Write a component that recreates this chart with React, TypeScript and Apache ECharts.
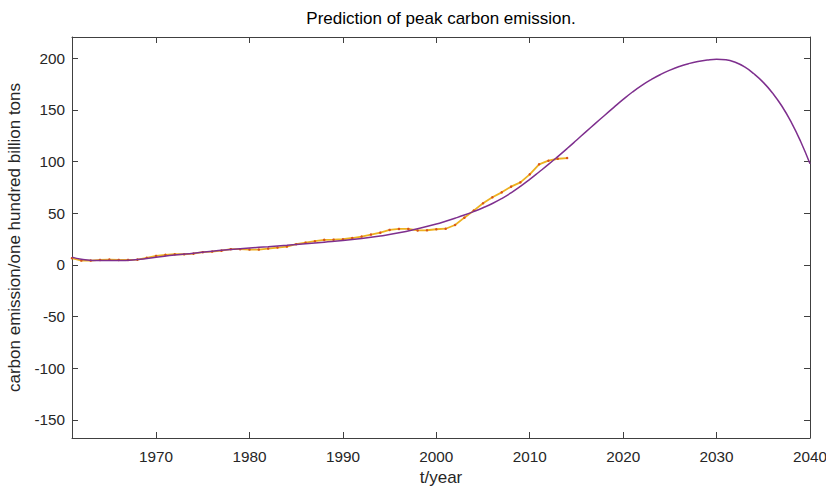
import React, { useEffect, useRef } from "react";
import * as echarts from "echarts";

const years: number[] = [];
for (let y = 1961; y <= 2014; y++) years.push(y);

const actual: number[] = [
  6.5, 4.2, 4.2, 4.8, 5.1, 4.8, 4.8, 5.1, 6.8, 8.7,
  9.7, 10.3, 10.3, 10.9, 12.3, 12.9, 13.8, 15.2, 15.2, 14.8,
  14.8, 15.8, 16.8, 17.7, 20.0, 21.5, 22.9, 24.2, 24.4, 24.8,
  26.0, 27.4, 29.3, 31.2, 33.8, 34.8, 34.8, 33.3, 33.5, 34.5,
  35.0, 38.6, 45.7, 52.5, 59.6, 65.4, 70.2, 75.7, 79.9, 87.6,
  97.3, 100.8, 102.7, 103.4,
];

const fitYears: number[] = [
  1961, 1962, 1964, 1966, 1968, 1970, 1972, 1974, 1976, 1978, 1980,
  1982, 1984, 1986, 1988, 1990, 1992, 1994, 1996, 1998, 2000,
  2001, 2002, 2003, 2004, 2005, 2006, 2007, 2008, 2009, 2010,
  2011, 2012, 2013, 2014, 2015, 2016, 2017, 2018, 2019, 2020,
  2021, 2022, 2023, 2024, 2025, 2026, 2027, 2028, 2029, 2030,
  2031, 2032, 2033, 2034, 2035, 2036, 2037, 2038, 2039, 2040,
];
const fitValues: number[] = [
  7.5, 5.5, 4.2, 4.2, 5.2, 7.3, 9.5, 11.3, 13.2, 14.8, 16.3,
  17.6, 19.0, 20.5, 22.0, 23.5, 25.5, 28.0, 31.0, 35.0, 39.5,
  42.2, 45.1, 48.2, 51.6, 55.3, 59.4, 64.2, 69.7, 75.9, 82.7,
  89.9, 97.2, 104.8, 112.6, 120.6, 128.7, 136.7, 144.6, 152.4, 160.1,
  167.3, 173.7, 179.3, 184.2, 188.4, 191.9, 194.7, 196.8, 198.2, 198.9,
  198.4, 196.0, 191.5, 184.9, 176.6, 166.2, 153.5, 137.9, 119.4, 97.8,
];

const xTicks: number[] = [1970, 1980, 1990, 2000, 2010, 2020, 2030, 2040];
const yTicks: number[] = [-150, -100, -50, 0, 50, 100, 150, 200];

const titleText = "Prediction of peak carbon emission.";
const xName = "t/year";
const yName = "carbon emission/one hundred billion tons";

export default function App() {
  const ref = useRef<HTMLDivElement>(null);
  useEffect(() => {
    if (!ref.current) return;
    const chart = echarts.init(ref.current, undefined, { renderer: "svg" });
    const font = "Arial, 'Liberation Sans', Helvetica, sans-serif";
    const fsTick = 15.3;
    const fsName = 17;
    const axisColor = "#404040";
    const textColor = "#262626";
    const xMin = 1961, xMax = 2040, yMin = -167.5, yMax = 220.5;
    const baseX = {
      type: "value" as const,
      min: xMin,
      max: xMax,
      splitLine: { show: false },
      axisLine: { show: true, onZero: false, lineStyle: { color: axisColor, width: 1 } },
      axisTick: { show: true, inside: true, length: 6, customValues: xTicks, lineStyle: { color: axisColor } },
    };
    const baseY = {
      type: "value" as const,
      min: yMin,
      max: yMax,
      splitLine: { show: false },
      axisLine: { show: true, onZero: false, lineStyle: { color: axisColor, width: 1 } },
      axisTick: { show: true, inside: true, length: 6, customValues: yTicks, lineStyle: { color: axisColor } },
    };
    chart.setOption({
      animation: false,
      backgroundColor: "#ffffff",
      textStyle: { fontFamily: font },
      grid: {
        left: 72,
        top: 37,
        right: 16,
        bottom: 48,
        containLabel: false,
        outerBoundsMode: "none",
      },
      graphic: [
        {
          type: "text",
          x: 441,
          y: 18.5,
          style: {
            text: titleText,
            fontSize: fsName,
            fontFamily: font,
            fill: "#000",
            textAlign: "center",
            textVerticalAlign: "middle",
          },
        },
      ],
      xAxis: [
        {
          ...baseX,
          position: "bottom",
          name: xName,
          nameLocation: "middle",
          nameGap: 31,
          nameTextStyle: { fontSize: fsName, color: textColor, fontFamily: font },
          axisLabel: {
            show: true,
            customValues: xTicks,
            fontSize: fsTick,
            color: textColor,
            margin: 11,
            fontFamily: font,
            formatter: (v: number) => String(v),
          },
        },
        {
          ...baseX,
          position: "top",
          axisLabel: { show: false },
        },
      ],
      yAxis: [
        {
          ...baseY,
          position: "left",
          name: yName,
          nameLocation: "middle",
          nameGap: 43,
          nameTextStyle: { fontSize: fsName, color: textColor, fontFamily: font },
          axisLabel: {
            show: true,
            customValues: yTicks,
            fontSize: fsTick,
            color: textColor,
            margin: 7,
            fontFamily: font,
            formatter: (v: number) => String(v),
          },
        },
        {
          ...baseY,
          position: "right",
          axisLabel: { show: false },
        },
      ],
      series: [
        {
          type: "line",
          name: "actual",
          xAxisIndex: 0,
          yAxisIndex: 0,
          data: years.map((y, i) => [y, actual[i]]),
          showSymbol: true,
          symbol: "circle",
          symbolSize: 2.5,
          itemStyle: { color: "#D95319" },
          lineStyle: { color: "#EDB120", width: 1.8 },
          z: 2,
        },
        {
          type: "line",
          name: "fit",
          xAxisIndex: 0,
          yAxisIndex: 0,
          data: fitYears.map((y, i) => [y, fitValues[i]]),
          showSymbol: false,
          smooth: 0.5,
          lineStyle: { color: "#7E2F8E", width: 1.5 },
          z: 3,
        },
      ],
    });
    return () => chart.dispose();
  }, []);
  return (
    <div
      ref={ref}
      style={{ position: "fixed", left: 0, top: 0, width: 826, height: 486 }}
    />
  );
}
